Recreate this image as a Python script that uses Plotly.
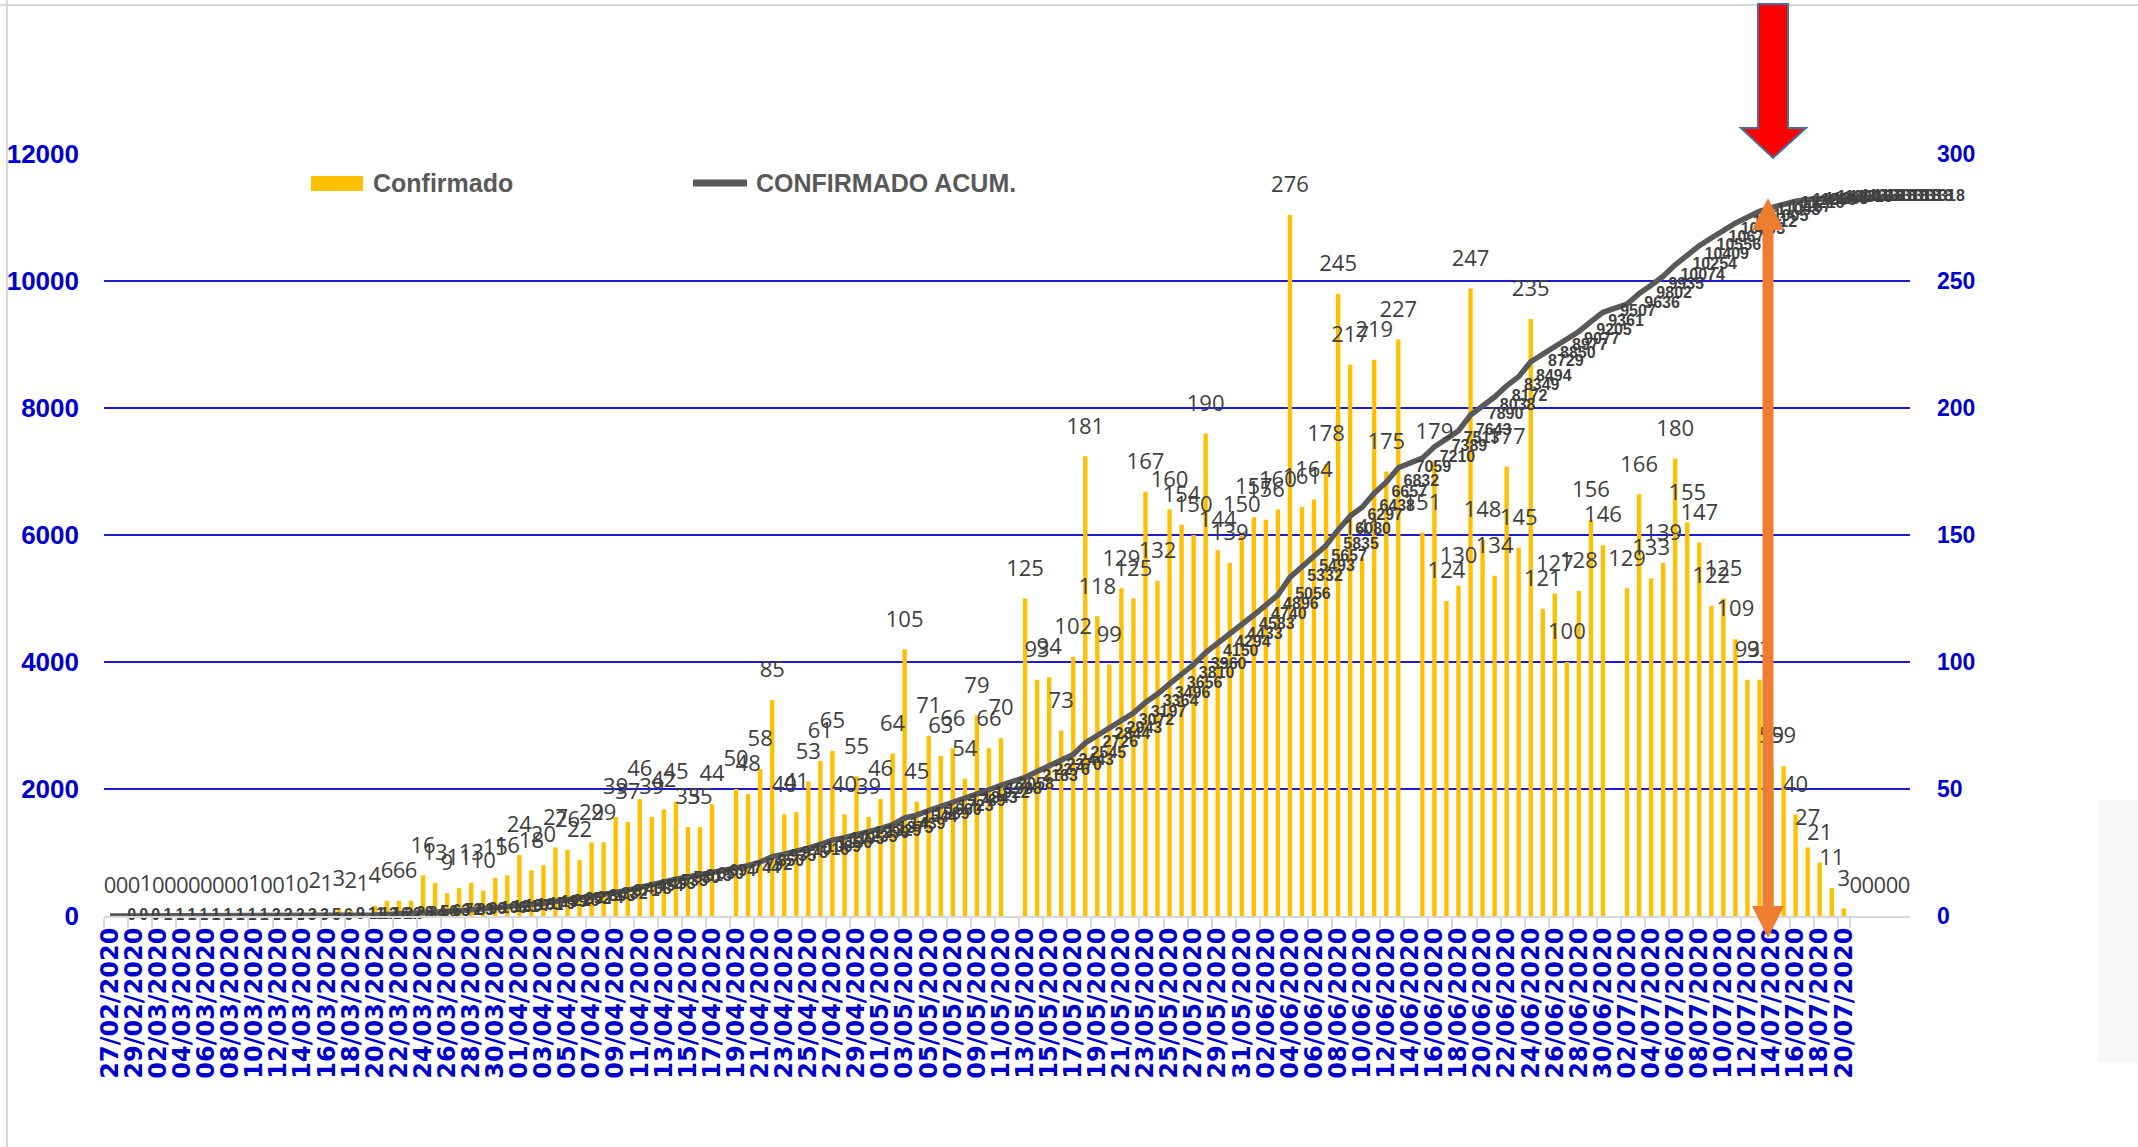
import plotly.graph_objects as go
import pandas as pd

# ---------------- data ----------------
start_date = "2020-02-27"
n_days = 150
all_dates = pd.date_range(start_date, periods=n_days, freq="D").strftime("%d/%m/%Y").tolist()

# daily confirmed (None = date without data row)
confirmado = [
    0, 0, 0, 1, 0, 0, 0, 0, 0, 0,
    0, 0, 1, 0, 0, 1, 0, 2, 1, 3,
    2, 1, 4, 6, 6, 6, 16, 13, 9, 11,
    13, 10, 15, 16, 24, 18, 20, 27, 26, 22,
    29, 29, 39, 37, 46, 39, 42, 45, 35, 35,
    44, None, 50, 48, 58, 85, 40, 41, 53, 61,
    65, 40, 55, 39, 46, 64, 105, 45, 71, 63,
    66, 54, 79, 66, 70, None, 125, 93, 94, 73,
    102, 181, 118, 99, 129, 125, 167, 132, 160, 154,
    150, 190, 144, 139, 150, 157, 156, 160, 276, 161,
    164, 178, 245, 217, 141, 219, 175, 227, None, 151,
    179, 124, 130, 247, 148, 134, 177, 145, 235, 121,
    127, 100, 128, 156, 146, None, 129, 166, 133, 139,
    180, 155, 147, 122, 125, 109, 93, 93, 59, 59,
    40, 27, 21, 11, 3, 0, 0, 0, 0, 0,
]

# cumulative confirmed (CONFIRMADO ACUM.)
acumulado = [
    0, 0, 0, 1, 1, 1, 1, 1, 1, 1,
    1, 1, 2, 2, 2, 3, 3, 5, 6, 9,
    11, 12, 16, 22, 28, 34, 50, 63, 72, 83,
    96, 106, 121, 137, 161, 179, 199, 226, 252, 274,
    303, 332, 371, 408, 454, 493, 535, 580, 615, 650,
    694, None, 744, 792, 850, 935, 975, 1016, 1069, 1130,
    1195, 1235, 1290, 1329, 1375, 1439, 1544, 1589, 1660, 1723,
    1789, 1843, 1922, 1988, 2058, None, 2183, 2276, 2370, 2443,
    2545, 2726, 2844, 2943, 3072, 3197, 3364, 3496, 3656, 3810,
    3960, 4150, 4294, 4433, 4583, 4740, 4896, 5056, 5332, 5493,
    5657, 5835, 6080, 6297, 6438, 6657, 6832, 7059, None, 7210,
    7389, 7513, 7643, 7890, 8038, 8172, 8349, 8494, 8729, 8850,
    8977, 9077, 9205, 9361, 9507, None, 9636, 9802, 9935, 10074,
    10254, 10409, 10556, 10678, 10803, 10912, 11005, 11098, 11157, 11216,
    11256, 11283, 11304, 11315, 11318, 11318, 11318, 11318, 11318, 11318,
]

tick_labels = all_dates[0:145:2]          # 27/02/2020 ... 20/07/2020
left_ticks = [0, 2000, 4000, 6000, 8000, 10000, 12000]
left_tick_text = ["0", "2000", "4000", "6000", "8000", "10000", "12000"]
right_ticks = [0, 50, 100, 150, 200, 250, 300]
right_tick_text = ["0", "50", "100", "150", "200", "250", "300"]

# ---------------- geometry helpers (pixels -> paper) ----------------
W, H = 2138, 1147
L, R, T, B = 104, 228, 154, 231
PW, PH = W - L - R, H - T - B


def fx(x):
    return (x - L) / PW


def fy(y):
    return (H - B - y) / PH


def path(points):
    return "M " + " L ".join(f"{fx(x):.5f},{fy(y):.5f}" for x, y in points) + " Z"


BLUE = "#0000CC"
GREY_TXT = "#404040"

bar_x = [d for d, v in zip(all_dates, confirmado) if v is not None]
bar_y = [v for v in confirmado if v is not None]
cum_x = [d for d, v in zip(all_dates, acumulado) if v is not None]
cum_y = [v for v in acumulado if v is not None]

fig = go.Figure()

fig.add_trace(go.Bar(
    x=bar_x, y=bar_y, yaxis="y", name="Confirmado",
    marker=dict(color="#FFC000", line=dict(width=0)),
    showlegend=False, hoverinfo="skip",
))

fig.add_trace(go.Scatter(
    x=cum_x, y=cum_y, yaxis="y2", name="CONFIRMADO ACUM.",
    mode="lines+markers+text",
    line=dict(color="#595959", width=5.5),
    marker=dict(size=26, opacity=0),
    connectgaps=True,
    text=[str(v) for v in cum_y], textposition="middle right",
    textfont=dict(family="Liberation Sans", size=16, color=GREY_TXT, weight="bold"),
    cliponaxis=False, showlegend=False, hoverinfo="skip",
))

fig.add_trace(go.Scatter(
    x=bar_x, y=bar_y, yaxis="y3", mode="markers+text",
    marker=dict(size=26, opacity=0),
    text=[str(v) for v in bar_y], textposition="top center",
    textfont=dict(family="Open Sans", size=22, color=GREY_TXT),
    cliponaxis=False, showlegend=False, hoverinfo="skip",
))

shapes = [
    # chart frame (top and left border)
    dict(type="line", xref="paper", yref="paper", x0=fx(0), x1=fx(W), y0=fy(5), y1=fy(5),
         line=dict(color="#D9D9D9", width=2)),
    dict(type="line", xref="paper", yref="paper", x0=fx(7), x1=fx(7), y0=fy(0), y1=fy(H),
         line=dict(color="#D9D9D9", width=2)),
    # faint shadow at the right edge
    dict(type="rect", xref="paper", yref="paper", x0=fx(2098), x1=fx(2140), y0=fy(1062), y1=fy(800),
         fillcolor="#F7F7F7", line=dict(width=0), layer="below"),
    # legend symbols
    dict(type="rect", xref="paper", yref="paper", x0=fx(311), x1=fx(363), y0=fy(191), y1=fy(176),
         fillcolor="#FFC000", line=dict(width=0)),
    dict(type="line", xref="paper", yref="paper", x0=fx(693), x1=fx(747), y0=fy(183), y1=fy(183),
         line=dict(color="#595959", width=7)),
    # red arrow
    dict(type="path", xref="paper", yref="paper",
         path=path([(1758, 4), (1788, 4), (1788, 128), (1806, 128), (1773, 158), (1741, 128), (1758, 128)]),
         fillcolor="#FF0000", line=dict(color="#41719C", width=2)),
    # orange double arrow
    dict(type="path", xref="paper", yref="paper",
         path=path([(1768, 198), (1784, 230), (1773.5, 230), (1773.5, 906), (1784, 906), (1768, 938),
                    (1752, 906), (1762.5, 906), (1762.5, 230), (1752, 230)]),
         fillcolor="#ED7D31", line=dict(width=0)),
]

annotations = [
    dict(xref="paper", yref="paper", x=fx(371), y=fy(183), xanchor="left", yanchor="middle",
         text="Confirmado", showarrow=False,
         font=dict(family="Liberation Sans", size=25, color="#595959", weight="bold")),
    dict(xref="paper", yref="paper", x=fx(754), y=fy(183), xanchor="left", yanchor="middle",
         text="CONFIRMADO ACUM.", showarrow=False,
         font=dict(family="Liberation Sans", size=25, color="#595959", weight="bold")),
]

fig.update_layout(
    width=W, height=H,
    margin=dict(l=L, r=R, t=T, b=B, pad=0, autoexpand=False),
    paper_bgcolor="white", plot_bgcolor="white",
    bargap=0.64, showlegend=False,
    shapes=shapes, annotations=annotations,
    xaxis=dict(
        type="category", categoryorder="array", categoryarray=all_dates,
        range=[-0.5, n_days - 0.5], automargin=False,
        tickmode="array", tickvals=tick_labels, ticktext=tick_labels,
        tickangle=-90,
        tickfont=dict(family="DejaVu Sans", size=24, color=BLUE, weight="bold"),
        showline=True, linecolor="#D9D9D9", linewidth=2,
        ticks="outside", ticklen=10, tickcolor="#D9D9D9", tickwidth=2,
        tickson="boundaries", showgrid=False, zeroline=False,
        ticklabelstandoff=0,
    ),
    yaxis=dict(
        side="right", range=[0, 300], tickmode="array", tickvals=right_ticks, ticktext=right_tick_text,
        showgrid=True, gridcolor="#1C1CCC", gridwidth=2, zeroline=False, automargin=False,
        showline=False, ticks="",
        tickfont=dict(family="Liberation Sans", size=23, color=BLUE, weight="bold"),
        ticklabelstandoff=26,
    ),
    yaxis2=dict(
        side="left", overlaying="y", range=[0, 12000], tickmode="array", tickvals=left_ticks,
        ticktext=left_tick_text, automargin=False,
        showgrid=False, zeroline=False, showline=False, ticks="",
        tickfont=dict(family="Liberation Sans Narrow, Liberation Sans", size=26, color=BLUE, weight="bold"),
        ticklabelstandoff=24,
    ),
    yaxis3=dict(overlaying="y", range=[0, 300], visible=False, automargin=False),
)

fig.write_html(
    "out.html",
    config={"displayModeBar": False, "staticPlot": True},
    post_script="document.body.style.margin='0px'; document.body.style.overflow='hidden';",
)
